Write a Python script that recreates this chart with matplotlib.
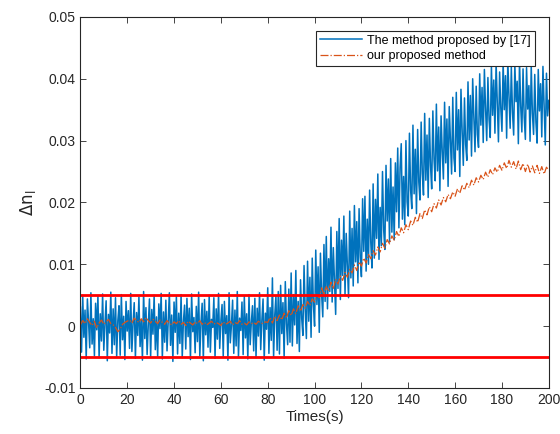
import matplotlib.pyplot as plt
import numpy as np

plt.rcParams['font.family'] = ['Liberation Sans', 'DejaVu Sans']

# values, in units of 1e-3
blue_vals = [
    # 0 - 24.5 s
    3.1, -4.2, 5.0, -1.8, 2.6, -5.3, 4.4, 0.7, -3.5, 5.4, -2.9, 1.2, -4.8, 3.7, -0.6, 4.9, -5.1, 2.0, -2.4, 5.2,
    -3.9, 0.3, 4.1, -5.6, 1.9, -1.1, 5.5, -4.4, 2.8, -3.0, 4.6, -5.0, 0.9, 3.3, -4.7, 5.1, -2.2, 1.6, -5.4, 4.0,
    -0.8, 2.5, -3.6, 5.3, -4.1, 0.4, 3.8, -5.2, 2.2, -1.5,
    # 25 - 49.5 s
    4.7, -3.3, 1.0, -5.5, 5.6, -2.0, 3.0, -4.6, 0.2, 4.4, -5.0, 2.7, -1.3, 5.0, -3.8, 1.5, -4.9, 3.6, -0.4, 5.3,
    -5.3, 2.3, -2.6, 4.2, -4.0, 0.6, 5.4, -3.1, 1.8, -5.7, 3.9, -1.0, 4.8, -4.5, 2.1, -2.8, 5.1, -5.1, 0.8, 3.4,
    -3.7, 4.5, -1.7, 2.9, -5.4, 5.2, -0.9, 1.4, -4.3, 3.2,
    # 50 - 74.5 s
    -2.5, 5.5, -4.8, 0.5, 3.7, -5.6, 4.3, -1.4, 2.4, -3.4, 5.0, -4.2, 1.1, -0.2, 4.6, -5.2, 2.8, -2.1, 5.3, -3.6,
    0.9, 3.5, -4.9, 4.0, -1.2, 1.7, -5.5, 5.4, -2.7, 0.1, 4.2, -4.4, 2.6, -3.2, 5.6, -5.0, 1.3, -0.7, 3.9, -4.6,
    4.8, -1.9, 2.0, -5.3, 5.1, -3.0, 0.6, 3.3, -4.0, 4.5,
    # 75 - 99.5 s
    -5.1, 2.9, -1.6, 5.4, -3.8, 1.0, 4.4, -5.5, 2.1, -0.5,
    6.2, -4.4, 3.0, -2.3, 7.8, -5.0, 1.8, 4.9, -3.9, 5.6,
    -4.5, 6.6, -1.2, 3.8, -5.2, 7.2, 0.4, -3.0, 6.0, -2.6,
    8.6, -3.2, 5.1, 0.2, 9.0, -2.8, 4.0, -4.1, 7.5, 1.3,
    -1.5, 9.8, 2.6, -2.0, 10.5, 0.8, 7.9, -1.8, 11.0, 3.4,
    # 100 - 124.5 s
    0.0, 12.3, 3.5, 9.6, -1.0, 11.8, 5.2, 1.5, 13.2, 4.0,
    14.5, 2.8, 10.9, 5.6, 16.0, 3.9, 12.7, 7.4, 1.9, 15.3,
    6.1, 17.4, 4.3, 13.9, 8.2, 17.8, 5.0, 15.0, 9.6, 4.6,
    18.6, 7.8, 15.8, 6.5, 19.5, 10.4, 16.9, 7.0, 19.0, 11.2,
    8.0, 20.6, 12.1, 21.0, 8.9, 17.3, 10.0, 22.0, 13.5, 9.4,
    # 125 - 149.5 s
    23.0, 11.0, 20.5, 14.2, 24.6, 10.8, 19.2, 13.0, 25.0, 15.6,
    12.4, 26.0, 17.0, 23.8, 13.6, 27.1, 15.2, 22.5, 14.0, 26.4,
    18.5, 28.8, 15.9, 25.6, 29.5, 17.3, 24.2, 16.4, 30.0, 20.1,
    17.8, 31.2, 22.0, 19.0, 32.5, 21.4, 28.6, 18.2, 31.8, 23.3,
    20.4, 33.0, 24.7, 21.2, 34.4, 23.6, 30.9, 20.8, 33.6, 26.0,
    # 150 - 174.5 s
    22.2, 34.8, 27.0, 23.5, 35.9, 25.1, 32.2, 21.9, 34.0, 28.3,
    23.8, 36.2, 26.4, 33.5, 22.6, 35.5, 29.9, 24.6, 37.0, 27.2,
    25.0, 37.8, 28.5, 35.0, 24.2, 38.3, 31.6, 26.0, 36.9, 29.4,
    26.8, 39.5, 30.1, 37.3, 27.5, 40.0, 33.8, 28.2, 38.8, 31.0,
    28.9, 40.8, 32.5, 38.6, 29.7, 41.5, 35.2, 30.0, 40.2, 33.4,
    # 175 - 200 s
    30.5, 42.0, 34.1, 39.8, 31.2, 42.6, 36.0, 29.8, 41.1, 35.3,
    31.5, 42.8, 35.0, 40.5, 30.4, 43.0, 37.2, 32.0, 41.9, 34.6,
    30.9, 42.4, 36.3, 39.6, 29.5, 42.9, 35.6, 31.4, 41.6, 33.8,
    30.2, 41.8, 35.1, 38.9, 29.9, 42.2, 34.4, 31.0, 40.7, 33.0,
    29.6, 41.5, 34.8, 39.2, 30.6, 42.0, 35.9, 29.3, 40.9, 34.0, 36.5,
]

orange_vals = [
    0.2, 0.9, 0.4, 1.2, 0.6, 0.1, 0.8, -0.3, 0.5, 1.0, 0.3, 0.7, 1.1, 0.4, 0.2, -0.2, -0.9, -0.5, 0.3, 0.6,
    0.8, 1.0, 0.5, 1.3, 0.9, 0.6, 1.2, 0.7, 1.4, 0.9, 0.5, 1.1, 0.8, 0.4, 1.0, 0.6, 0.3, 0.9, 0.5, 0.2,
    0.7, 0.4, 0.9, 0.3, 0.6, 0.1, 0.8, 0.5, 0.2, 0.7, 0.4, 0.9, 0.3, 0.6, 0.2, 0.5, 0.8, 0.3, 0.6, 0.4,
    0.1, 0.7, 0.3, 0.5, 0.8, 0.2, 0.6, 0.4, 0.9, 0.3, 0.5, 0.2, 0.7, 0.4, 0.6, 0.3, 0.8, 0.5, 0.4, 0.7,
    0.6, 1.4, 0.5, 1.6, 0.9, 1.8, 1.0, 2.1, 1.3, 2.5, 1.7, 2.8, 2.0, 3.3, 2.4, 3.5, 2.9, 4.0, 3.3, 4.4,
    3.9, 5.0, 4.6, 6.2, 5.1, 6.4, 5.6, 7.1, 6.0, 7.6, 6.8, 8.1, 7.4, 8.7, 7.9, 9.2, 8.6, 9.9, 9.0, 10.4,
    9.7, 11.0, 10.2, 11.6, 10.9, 12.2, 11.5, 12.8, 12.0, 13.4, 12.6, 14.0, 13.3, 14.6, 13.9, 15.3, 14.5, 15.9, 15.1, 16.4,
    15.6, 17.0, 16.3, 17.6, 16.8, 18.2, 17.4, 18.8, 18.0, 19.3, 18.5, 19.8, 19.1, 20.4, 19.6, 20.8, 20.1, 21.3, 20.6, 21.7,
    21.0, 22.2, 21.5, 22.7, 22.0, 23.1, 22.4, 23.6, 22.8, 24.0, 23.3, 24.4, 23.7, 24.9, 24.1, 25.3, 24.5, 25.6, 24.9, 26.0,
    25.2, 26.4, 25.5, 26.8, 25.7, 26.6, 25.4, 26.7, 25.3, 26.3, 25.0, 26.2, 24.9, 25.9, 24.8, 26.0, 24.7, 25.8, 24.6, 25.7, 25.2,
]

threshold = 0.005
x_ticks = [0, 20, 40, 60, 80, 100, 120, 140, 160, 180, 200]
y_ticks = [-0.01, 0, 0.01, 0.02, 0.03, 0.04, 0.05]
y_labels = ['-0.01', '0', '0.01', '0.02', '0.03', '0.04', '0.05']

blue = np.array(blue_vals) * 1e-3
orange = np.array(orange_vals) * 1e-3
t_blue = np.linspace(0, 200, len(blue))
t_orange = np.linspace(0, 200, len(orange))

fig = plt.figure(figsize=(5.6, 4.34), dpi=100)
ax = fig.add_axes([0.1435, 0.106, 0.8365, 0.855])

ax.plot(t_blue, blue, color='#0072BD', lw=1.1, label='The method proposed by [17]')
ax.plot(t_orange, orange, color='#D95319', lw=0.9, linestyle='-.', label='our proposed method')
ax.axhline(threshold, color='red', lw=2)
ax.axhline(-threshold, color='red', lw=2)

ax.set_xlim(0, 200)
ax.set_ylim(-0.01, 0.05)
ax.set_xticks(x_ticks)
ax.set_yticks(y_ticks)
ax.set_yticklabels(y_labels)
ax.tick_params(direction='in', top=True, right=True, labelsize=10, colors='#262626', length=4, width=0.6)
for s in ax.spines.values():
    s.set_color('#262626')
    s.set_linewidth(0.8)

ax.set_xlabel('Times(s)', fontsize=11, color='#262626', labelpad=2)
ax.set_ylabel(r'$\Delta\mathrm{n}_\mathrm{l}$', fontsize=12, color='#262626', labelpad=4)

leg = ax.legend(loc='upper right', bbox_to_anchor=(0.970, 0.962), borderaxespad=0, fontsize=9,
                fancybox=False, framealpha=1, edgecolor='#262626', handlelength=3.4,
                borderpad=0.3, labelspacing=0.25, handletextpad=0.4)
leg.get_frame().set_linewidth(0.8)

fig.savefig('out.png', dpi=100)
